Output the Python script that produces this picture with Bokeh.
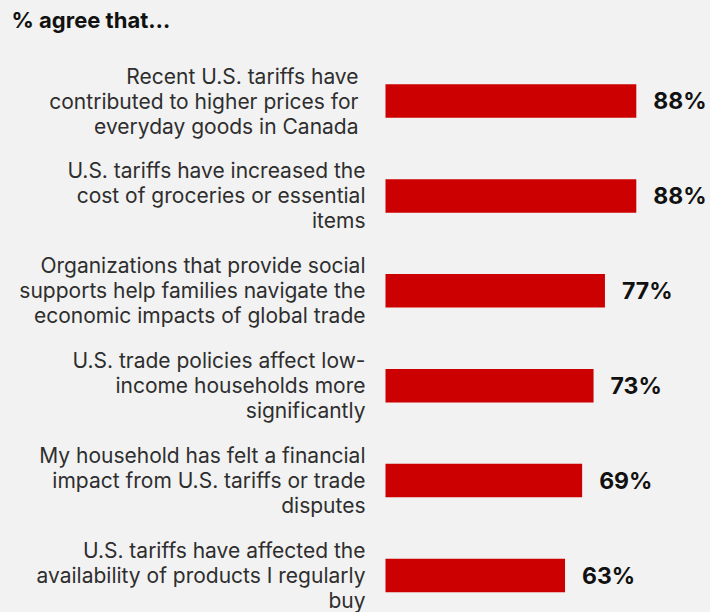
from bokeh.plotting import figure
from bokeh.models import Range1d, ColumnDataSource, Label
from bokeh.core.properties import value
from bokeh.embed import file_html
from bokeh.resources import INLINE

title_text = "% agree that…"
categories = [
    "Recent U.S. tariffs have\ncontributed to higher prices for\neveryday goods in Canada",
    "U.S. tariffs have increased the\ncost of groceries or essential\nitems",
    "Organizations that provide social\nsupports help families navigate the\neconomic impacts of global trade",
    "U.S. trade policies affect low-\nincome households more\nsignificantly",
    "My household has felt a financial\nimpact from U.S. tariffs or trade\ndisputes",
    "U.S. tariffs have affected the\navailability of products I regularly\nbuy",
]
values = [88, 88, 77, 73, 69, 63]
value_labels = ["88%", "88%", "77%", "73%", "69%", "63%"]

W, H = 710, 612
BG = "#f2f2f2"
px_per_pct = 2.85
bar_left_px = 385
x_start = -bar_left_px / px_per_pct
x_end = (W - bar_left_px) / px_per_pct

row_px = 94.9
first_px = 100.5
y_top = -first_px / row_px
y_bottom = (H - first_px) / row_px

idx = list(range(len(categories)))
label_offsets = [-27, -20, -20, -20, -20, -20]
src = ColumnDataSource(dict(
    y=idx, v=values, vl=value_labels, cat=categories, off=label_offsets,
))

p = figure(width=W, height=H, output_backend="svg", toolbar_location=None,
           x_range=Range1d(x_start, x_end), y_range=Range1d(y_bottom, y_top),
           min_border=0, background_fill_color=BG, border_fill_color=BG,
           outline_line_color=None)
p.axis.visible = False
p.grid.visible = False

p.hbar(y="y", left=0, right="v", height=0.353, source=src,
       fill_color="#cc0000", line_color=None)

p.text(x="v", y="y", text="vl", source=src, x_offset=17,
       text_font=value("Inter"), text_font_style="bold", text_font_size="23px",
       text_color="#111111", text_baseline="middle", text_align="left")

p.text(x=0, y="y", text="cat", source=src, x_offset="off",
       text_font=value("Inter"), text_font_size="21px", text_line_height=1.0,
       text_color="#2e2e2e", text_baseline="middle", text_align="right")

p.add_layout(Label(x=11, y=H - 19, x_units="screen", y_units="screen",
                   text=title_text, text_font="Inter", text_font_style="bold",
                   text_font_size="22px", text_color="#111111",
                   text_baseline="alphabetic"))

html = file_html(p, INLINE)
html = html.replace("<head>", "<head><style>html,body{background:%s;margin:0;}</style>" % BG, 1)
open("out.html", "w").write(html)
